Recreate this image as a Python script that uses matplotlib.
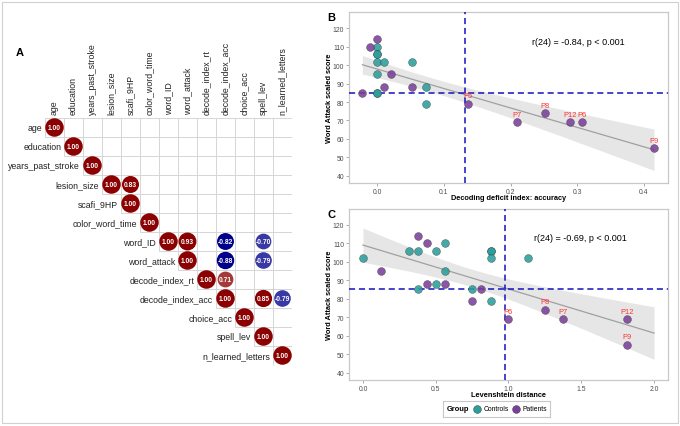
import numpy as np
import matplotlib.pyplot as plt
from matplotlib.patches import Rectangle, Circle
from matplotlib.colors import LinearSegmentedColormap

plt.rcParams['font.family'] = ['Liberation Sans', 'DejaVu Sans']

# ---- data: correlation matrix (upper triangle, significant cells only)
variables = ['age', 'education', 'years_past_stroke', 'lesion_size', 'scafi_9HP',
             'color_word_time', 'word_ID', 'word_attack', 'decode_index_rt',
             'decode_index_acc', 'choice_acc', 'spell_lev', 'n_learned_letters']
corr_cells = [
    ('lesion_size', 'scafi_9HP', 0.83),
    ('word_ID', 'word_attack', 0.93),
    ('word_ID', 'decode_index_acc', -0.82),
    ('word_ID', 'spell_lev', -0.70),
    ('word_attack', 'decode_index_acc', -0.88),
    ('word_attack', 'spell_lev', -0.79),
    ('decode_index_rt', 'decode_index_acc', 0.71),
    ('decode_index_acc', 'spell_lev', 0.85),
    ('decode_index_acc', 'n_learned_letters', -0.79),
]

# ---- data: panel B (decoding deficit index: accuracy vs word attack)
b_ctrl_x = [0.0, 0.0, 0.0, 0.0, 0.0105, 0.0, 0.0, 0.0, 0.052, 0.073, 0.073]
b_ctrl_y = [110, 106, 106, 102, 102, 95, 85, 85, 102, 88, 79]
b_pat_x = [-0.022, -0.011, 0.0, 0.0105, 0.021, 0.052, 0.136, 0.209, 0.251, 0.289, 0.307, 0.415]
b_pat_y = [85, 110, 114, 88, 95, 88, 79, 69, 74, 69, 69, 55]
b_lab = ['', '', '', '', '', '', 'P5', 'P7', 'P8', 'P12', 'P6', 'P9']
b_cut_x, b_cut_y = 0.132, 85

# ---- data: panel C (Levenshtein distance vs word attack)
c_ctrl_x = [0.0, 0.314, 0.378, 0.378, 0.502, 0.502, 0.564, 0.564, 0.751, 0.877, 0.877, 0.877, 0.877, 1.134]
c_ctrl_y = [102, 106, 106, 85, 106, 88, 110, 95, 85, 106, 106, 102, 79, 102]
c_pat_x = [0.126, 0.378, 0.44, 0.44, 0.564, 0.751, 0.813, 1.0, 1.251, 1.377, 1.814, 1.814]
c_pat_y = [95, 114, 110, 88, 88, 79, 85, 69, 74, 69, 69, 55]
c_lab = ['', '', '', '', '', '', '', 'P6', 'P8', 'P7', 'P12', 'P9']
c_cut_x, c_cut_y = 0.974, 85

teal = '#2A9E9B'
purple = '#7B3F99'
W, H = 680, 427

fig = plt.figure(figsize=(6.8, 4.27), dpi=100)
fig.patches.append(Rectangle((2 / W, 3 / H), 676 / W, 421 / H, transform=fig.transFigure,
                             fill=False, edgecolor='#D0D0D0', lw=0.8))


def px_axes(left, top, right, bottom):
    return fig.add_axes([left / W, 1 - bottom / H, (right - left) / W, (bottom - top) / H])


# ---------------- panel A
axA = px_axes(45, 119, 292, 366)
n = len(variables)
axA.set_xlim(0, n)
axA.set_ylim(n, 0)
axA.axis('off')
# 10 colour bins from dark blue through white to dark red
cmap = LinearSegmentedColormap.from_list('bwr_dark', ['#00008B', '#FFFFFF', '#8B0000'], N=10)
for i in range(n):
    for j in range(i, n):
        axA.add_patch(Rectangle((j, i), 1, 1, fill=False, edgecolor='#D6D6D6', lw=0.7))
cells = [(v, v, 1.0) for v in variables] + corr_cells
for rv, cv, r in cells:
    i, j = variables.index(rv), variables.index(cv)
    col = cmap(min((r + 1) / 2, 0.999))
    axA.add_patch(Circle((j + 0.5, i + 0.5), 0.45 * np.sqrt(abs(r)), facecolor=col, edgecolor=col))
    axA.text(j + 0.5, i + 0.52, f'{r:.2f}', color='white', fontsize=4.8, fontweight='bold',
             ha='center', va='center')
for k, v in enumerate(variables):
    axA.text(k - 0.15, k + 0.5, v, ha='right', va='center', fontsize=6.3, color='#222222')
    axA.text(k + 0.5, -0.2, v, ha='center', va='bottom', rotation=90, fontsize=6.3, color='#222222')
fig.text(20 / W, 1 - 53 / H, 'A', fontsize=8, fontweight='bold', ha='center', va='center')


# ---------------- panels B and C
def scatter_panel(ax, cx, cy, px, py, labels, cut_x, cut_y, xfit, stat_xy, stat_txt, xlabel):
    ax.fill_between(xfit[0], xfit[1], xfit[2], color='#E6E6E6', lw=0, zorder=1)
    ax.plot(xfit[0], xfit[3], color='#A0A0A0', lw=0.9, zorder=2)
    ax.axvline(cut_x, color='#1212C0', lw=1.1, ls=(0, (4, 2.5)), zorder=3)
    ax.axhline(cut_y, color='#1212C0', lw=1.1, ls=(0, (4, 2.5)), zorder=3)
    ax.scatter(cx, cy, s=32, color=teal, alpha=0.88, edgecolor='#3A3A3A', lw=0.3, zorder=4)
    ax.scatter(px, py, s=32, color=purple, alpha=0.88, edgecolor='#3A3A3A', lw=0.3, zorder=4)
    for x, y, t in zip(px, py, labels):
        if t:
            ax.annotate(t, (x, y), xytext=(0, 3.2), textcoords='offset points', ha='center',
                        va='bottom', fontsize=5.4, color='#FF3030', zorder=5)
    ax.text(stat_xy[0], stat_xy[1], stat_txt, ha='center', va='center', fontsize=6.5)
    ax.set_yticks(range(40, 121, 10))
    ax.tick_params(labelsize=4.9, labelcolor='#4D4D4D', color='#888888', length=2, width=0.5, pad=1.5)
    for s in ax.spines.values():
        s.set_color('#C8C8C8')
        s.set_linewidth(0.9)
    ax.set_xlabel(xlabel, fontsize=5.3, fontweight='bold')
    ax.set_ylabel('Word Attack scaled score', fontsize=5.3, fontweight='bold')
    ax.xaxis.set_label_coords(0.5, -0.064)
    ax.yaxis.set_label_coords(-0.05, 0.5)


def fit_band(x, y, xs):
    x, y = np.asarray(x, float), np.asarray(y, float)
    b, a = np.polyfit(x, y, 1)
    resid = y - (a + b * x)
    m = len(x)
    s = np.sqrt(np.sum(resid ** 2) / (m - 2))
    se = s * np.sqrt(1 / m + (xs - x.mean()) ** 2 / np.sum((x - x.mean()) ** 2))
    yhat = a + b * xs
    return xs, yhat - 2.064 * se, yhat + 2.064 * se, yhat


axB = px_axes(349, 13, 668, 184)
allx = b_ctrl_x + b_pat_x
ally = b_ctrl_y + b_pat_y
xsB = np.linspace(min(allx), max(allx), 100)
scatter_panel(axB, b_ctrl_x, b_ctrl_y, b_pat_x, b_pat_y, b_lab, b_cut_x, b_cut_y,
              fit_band(allx, ally, xsB), (0.301, 112.8), 'r(24) = -0.84, p < 0.001',
              'Decoding deficit index: accuracy')
axB.set_xlim(-0.042, 0.436)
axB.set_ylim(36, 128.9)
axB.set_xticks([0.0, 0.1, 0.2, 0.3, 0.4])
fig.text(331 / W, 1 - 18 / H, 'B', fontsize=8, fontweight='bold', ha='center', va='center')

axC = px_axes(349, 210, 668, 381)
allx = c_ctrl_x + c_pat_x
ally = c_ctrl_y + c_pat_y
xsC = np.linspace(0, 2.0, 100)
scatter_panel(axC, c_ctrl_x, c_ctrl_y, c_pat_x, c_pat_y, c_lab, c_cut_x, c_cut_y,
              fit_band(allx, ally, xsC), (1.496, 113.2), 'r(24) = -0.69, p < 0.001',
              'Levenshtein distance')
axC.set_xlim(-0.096, 2.096)
axC.set_ylim(36, 128.5)
axC.set_xticks([0.0, 0.5, 1.0, 1.5, 2.0])
fig.text(331 / W, 1 - 215 / H, 'C', fontsize=8, fontweight='bold', ha='center', va='center')

# ---------------- legend
axL = px_axes(443, 402, 550, 418)
axL.set_xlim(0, 1)
axL.set_ylim(0, 1)
axL.set_xticks([])
axL.set_yticks([])
for s in axL.spines.values():
    s.set_color('#C8C8C8')
    s.set_linewidth(0.8)
axL.text(0.037, 0.5, 'Group', fontsize=5.4, fontweight='bold', va='center')
axL.scatter([0.318], [0.5], s=32, color=teal, edgecolor='#3A3A3A', lw=0.3, clip_on=False)
axL.text(0.383, 0.5, 'Controls', fontsize=4.9, va='center')
axL.scatter([0.682], [0.5], s=32, color=purple, edgecolor='#3A3A3A', lw=0.3, clip_on=False)
axL.text(0.747, 0.5, 'Patients', fontsize=4.9, va='center')

fig.savefig('out.png', dpi=100)
